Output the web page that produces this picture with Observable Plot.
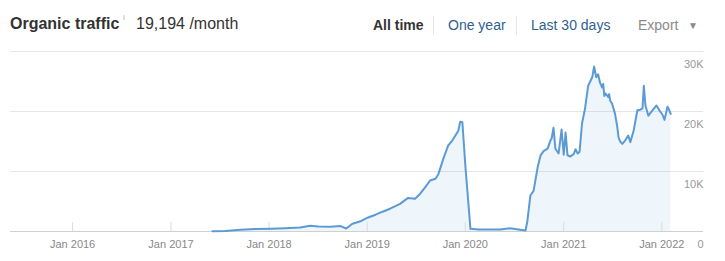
<!DOCTYPE html>
<html>
<head>
<meta charset="utf-8">
<script src="https://cdn.jsdelivr.net/npm/d3@7"></script>
<script src="https://cdn.jsdelivr.net/npm/@observablehq/plot@0.6"></script>
<style>
  html, body { margin: 0; padding: 0; background: #fff; }
  body { width: 725px; height: 261px; position: relative; overflow: hidden; font-family: "Liberation Sans", Arial, sans-serif; }
  #header { position: relative; height: 45px; }
  .h { position: absolute; top: 15px; white-space: nowrap; line-height: 20px; }
  .sep { position: absolute; top: 16px; width: 1px; height: 19px; background: #e6e6e6; }
  #chart { position: absolute; top: 45px; left: 0; }
</style>
</head>
<body>
<div id="header">
  <span class="h" style="left:10px;top:14px;font-size:16px;font-weight:bold;color:#333;">Organic traffic</span>
  <span class="h" style="left:123px;top:8px;font-size:8px;color:#aaa;">i</span>
  <span class="h" style="left:136px;top:14px;font-size:16px;color:#333;">19,194 /month</span>
  <span class="h" style="left:373px;font-size:14px;font-weight:bold;color:#333;">All time</span>
  <div class="sep" style="left:433px;"></div>
  <span class="h" style="left:448px;font-size:14px;color:#2f5f8f;">One year</span>
  <div class="sep" style="left:516px;"></div>
  <span class="h" style="left:531px;font-size:14px;color:#2f5f8f;">Last 30 days</span>
  <span class="h" style="left:638px;font-size:14px;color:#8a8a8a;">Export</span>
  <span class="h" style="left:688px;top:16px;font-size:10px;color:#8a8a8a;">&#9660;</span>
</div>
<div id="chart"></div>
<script>
const dates = [
  "2017-06-04","2017-07-22","2017-09-17","2017-11-12","2018-01-07","2018-03-02","2018-04-27",
  "2018-06-03","2018-07-03","2018-08-17","2018-09-24","2018-10-15","2018-11-07","2018-12-07",
  "2019-01-02","2019-02-01","2019-02-27","2019-03-27","2019-05-03","2019-06-02","2019-06-28",
  "2019-07-17","2019-08-05","2019-08-23","2019-09-12","2019-09-23","2019-10-11","2019-10-29",
  "2019-11-14","2019-11-25","2019-12-06","2019-12-13","2019-12-21","2020-01-01","2020-01-20",
  "2020-02-19","2020-04-03","2020-05-10","2020-06-16","2020-07-16","2020-08-12","2020-08-19",
  "2020-08-30","2020-09-11","2020-09-26","2020-10-07","2020-10-18","2020-11-02","2020-11-13",
  "2020-11-17","2020-11-24","2020-12-01","2020-12-13","2020-12-24","2021-01-01","2021-01-08",
  "2021-01-15","2021-01-26","2021-02-07","2021-02-14","2021-02-22","2021-03-01","2021-03-10",
  "2021-03-21","2021-04-02","2021-04-17","2021-04-24","2021-05-02","2021-05-09","2021-05-16",
  "2021-05-24","2021-05-28","2021-06-01","2021-06-05","2021-06-16","2021-06-19","2021-06-23",
  "2021-06-30","2021-07-11","2021-07-19",
  "2021-07-24","2021-07-30","2021-08-07","2021-08-18","2021-08-29","2021-09-06","2021-09-18",
  "2021-10-02","2021-10-13","2021-10-21","2021-10-26","2021-11-01","2021-11-12","2021-11-27",
  "2021-12-12","2021-12-23","2022-01-03","2022-01-11","2022-01-22","2022-01-29","2022-02-03"
];
const traffic = [
  50, 100, 300, 400, 450, 550, 650,
  950, 850, 800, 900, 500, 1300, 1700,
  2300, 2800, 3300, 3800, 4600, 5600, 5450,
  6300, 7400, 8500, 8800, 9600, 12100, 14300,
  15200, 16000, 16800, 18300, 18200, 11000, 450,
  350, 330, 350, 550, 350, 170, 1800,
  6000, 6800, 10700, 12700, 13400, 13800, 15200,
  15500, 17300, 13800, 13000, 17000, 12800, 16500,
  12700, 12500, 12900, 13700, 13000, 13300, 18000,
  20400, 24300, 25700, 27500, 25700, 26200, 24800,
  24000, 24600, 22600, 23000, 22400, 22900, 21800,
  21300, 19600, 17500,
  15700, 15000, 14600, 15200, 16000, 14900, 16800,
  20200, 20300, 20500, 24300, 21000, 19300, 20200,
  21000, 20200, 19500, 18600, 20800, 20200, 19600
];
const xDomain = ["2015-05-15", "2022-06-05"];
const yearTicks = ["2016-01-01","2017-01-01","2018-01-01","2019-01-01","2020-01-01","2021-01-01","2022-01-01"];
const yTicks = [0, 10000, 20000, 30000];
const yTickLabels = ["0", "10K", "20K", "30K"];

const data = dates.map((d, i) => ({date: new Date(d), value: traffic[i]}));
const ticks = yearTicks.map(d => new Date(d));

const chart = Plot.plot({
  width: 725,
  height: 216,
  marginTop: 6,
  marginBottom: 30,
  marginLeft: 10,
  marginRight: 22,
  style: {fontFamily: '"Liberation Sans", Arial, sans-serif', background: "transparent"},
  x: {type: "utc", domain: xDomain.map(d => new Date(d))},
  y: {domain: [0, 30000], axis: null},
  marks: [
    Plot.ruleY(yTicks.slice(1), {stroke: "#e6e6e6", strokeWidth: 1}),
    Plot.areaY(data, {x: "date", y: "value", fill: "#5b9bd5", fillOpacity: 0.1}),
    Plot.ruleX(ticks, {x: d => d, stroke: "#dcdcdc", insetTop: 171}),
    Plot.ruleY([0], {stroke: "#d0d0d0", strokeWidth: 1}),
    Plot.lineY(data, {x: "date", y: "value", stroke: "#5b9bd5", strokeWidth: 2, strokeLinejoin: "round"}),
    Plot.axisX({ticks: ticks, tickFormat: d3.utcFormat("Jan %Y"), tickSize: 0, tickPadding: 9, fontSize: 11, color: "#888", label: null}),
    Plot.text(yTicks, {y: d => d, text: (d, i) => yTickLabels[i], frameAnchor: "right", textAnchor: "end", dy: 13, fontSize: 11, fill: "#999"})
  ]
});
document.getElementById("chart").appendChild(chart);
</script>
</body>
</html>
